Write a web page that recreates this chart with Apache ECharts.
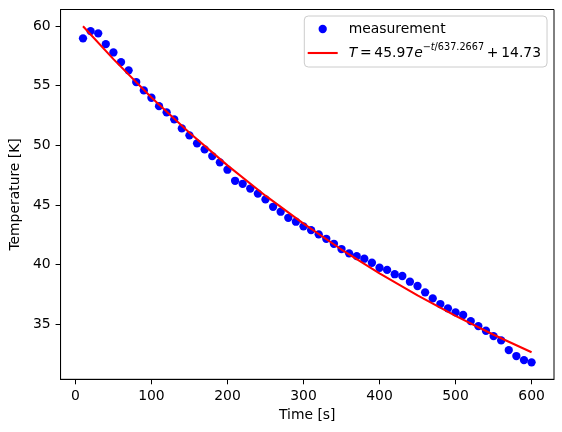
<!DOCTYPE html>
<html><head><meta charset="utf-8">
<script src="https://cdn.jsdelivr.net/npm/echarts@6/dist/echarts.min.js"></script>
<style>html,body{margin:0;padding:0;background:#fff}#c{width:562px;height:432px}</style>
</head><body><div id="c"></div>
<script>
const times = [10,20,30,40,50,60,70,80,90,100,110,120,130,140,150,160,170,180,190,200,
  210,220,230,240,250,260,270,280,290,300,310,320,330,340,350,360,370,380,390,400,
  410,420,430,440,450,460,470,480,490,500,510,520,530,540,550,560,570,580,590,600];
const measured = [58.97,59.58,59.39,58.49,57.79,56.98,56.29,55.31,54.61,53.99,
  53.29,52.77,52.18,51.42,50.84,50.17,49.66,49.10,48.58,47.96,
  47.03,46.78,46.38,45.96,45.47,44.85,44.44,43.93,43.60,43.21,
  42.90,42.54,42.17,41.75,41.31,40.95,40.72,40.50,40.16,39.74,
  39.56,39.20,39.05,38.57,38.21,37.68,37.17,36.70,36.34,36.00,
  35.78,35.27,34.85,34.46,34.01,33.65,32.84,32.34,32.00,31.81];
const fitTimes = [10,50,100,150,200,250,300,350,400,450,500,550,600];
const fitValues = [59.98,57.23,54.02,51.06,48.32,45.78,43.44,41.27,39.27,37.42,35.71,34.12,32.66];
const xTicks = [0,100,200,300,400,500,600];
const yTicks = [35,40,45,50,55,60];
const seriesNames = ['measurement','fit'];

const F = 'DejaVu Sans';
const chart = echarts.init(document.getElementById('c'), null, {renderer:'canvas'});
chart.setOption({
  animation:false,
  backgroundColor:'#fff',
  textStyle:{fontFamily:F},
  grid:{left:57.5,right:8,top:9.5,bottom:52.7,show:true,borderColor:'#000',borderWidth:1,backgroundColor:'transparent'},
  xAxis:{type:'value',min:-19.5,max:629.5,
    name:'Time [s]',nameLocation:'middle',nameGap:28.5,
    nameTextStyle:{color:'#000',fontSize:13.9,fontFamily:F},
    axisLine:{show:true,onZero:false,lineStyle:{color:'#000',width:1}},
    axisTick:{show:true,length:5,customValues:xTicks,lineStyle:{color:'#000'}},
    axisLabel:{customValues:xTicks,color:'#000',fontSize:13.9,fontFamily:F,margin:10},
    splitLine:{show:false}},
  yAxis:{type:'value',min:30.39,max:61.39,
    name:'Temperature [K]',nameLocation:'middle',nameGap:33,
    nameTextStyle:{color:'#000',fontSize:13.9,fontFamily:F},
    axisLine:{show:true,onZero:false,lineStyle:{color:'#000',width:1}},
    axisTick:{show:true,length:5,customValues:yTicks,lineStyle:{color:'#000'}},
    axisLabel:{customValues:yTicks,color:'#000',fontSize:13.9,fontFamily:F,margin:10},
    splitLine:{show:false}},
  legend:{
    orient:'vertical',left:304.3,top:16,
    padding:[2,6,3,3.4],itemGap:2,itemWidth:30,itemHeight:8.3,
    backgroundColor:'rgba(255,255,255,0.8)',borderColor:'#cccccc',borderWidth:1,borderRadius:4,
    data:[{name:'measurement',icon:'circle'},{name:'fit',icon:'path://M0,0H30V2.1H0Z'}],
    formatter:function(n){
      if(n==='fit') return '{i|T}\u2009=\u200945.97{i|e}{s|−}{si|t}{s|/637.2667}\u2009+\u200914.73';
      return n;
    },
    textStyle:{color:'#000',fontSize:13.9,fontFamily:F,lineHeight:22,padding:[0,0,0,6],
      rich:{
        i:{fontStyle:'italic',fontSize:13.9,fontFamily:F,lineHeight:22,color:'#000'},
        s:{fontSize:9.7,fontFamily:F,verticalAlign:'top',lineHeight:10,color:'#000'},
        si:{fontSize:9.7,fontStyle:'italic',fontFamily:F,verticalAlign:'top',lineHeight:10,color:'#000'}
      }}
  },
  series:[
    {name:seriesNames[0],type:'scatter',symbol:'circle',symbolSize:8.3,
      itemStyle:{color:'#0000ff',opacity:1},
      data:times.map((t,i)=>[t,measured[i]]),z:2},
    {name:seriesNames[1],type:'line',symbol:'none',smooth:false,
      lineStyle:{color:'#ff0000',width:2.08},itemStyle:{color:'#ff0000'},
      data:fitTimes.map((t,i)=>[t,fitValues[i]]),z:3}
  ]
});
</script></body></html>
